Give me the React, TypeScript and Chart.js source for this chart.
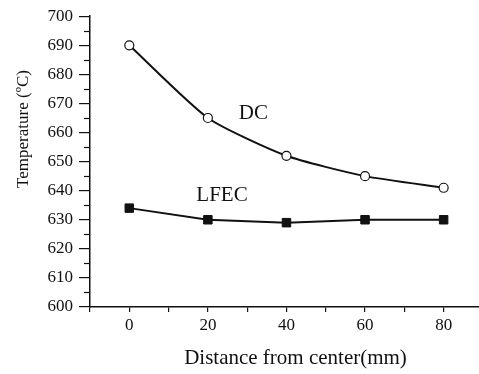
import React, { useEffect, useRef } from 'react';
import { Chart, registerables } from 'chart.js';

Chart.register(...registerables);

const distances = [0, 20, 40, 60, 80];
const dcTemps = [690, 665, 652, 645, 641];
const lfecTemps = [634, 630, 629, 630, 630];
const seriesNames = ['DC', 'LFEC'];
const xTitle = 'Distance from center(mm)';
const yTitle = 'Temperature (ºC)';
const xMin = -10;
const xMax = 89;
const yMin = 600;
const yMax = 700;

const INK = '#111';
const SERIF = '"Liberation Serif", "Times New Roman", serif';

const decorPlugin = {
  id: 'decor',
  afterDraw(chart: any) {
    const ctx = chart.ctx;
    const xs = chart.scales.x;
    const ys = chart.scales.y;
    const area = chart.chartArea;
    ctx.save();
    // minor y ticks
    ctx.strokeStyle = INK;
    ctx.lineWidth = 1.2;
    for (let v = yMin + 5; v < yMax; v += 10) {
      const py = Math.round(ys.getPixelForValue(v)) + 0.5;
      ctx.beginPath();
      ctx.moveTo(area.left - 6, py);
      ctx.lineTo(area.left, py);
      ctx.stroke();
    }
    // series labels
    ctx.fillStyle = INK;
    ctx.font = '21px ' + SERIF;
    ctx.textAlign = 'center';
    ctx.textBaseline = 'middle';
    ctx.fillText(seriesNames[0], xs.getPixelForValue(31.6), ys.getPixelForValue(666.4));
    ctx.fillText(seriesNames[1], xs.getPixelForValue(23.6), ys.getPixelForValue(638.4));
    // x title
    ctx.font = '21px ' + SERIF;
    ctx.fillText(xTitle, 295.5, 358);
    // y title
    ctx.save();
    ctx.translate(24, 129);
    ctx.rotate(-Math.PI / 2);
    ctx.font = '17px ' + SERIF;
    ctx.fillText(yTitle, 0, 0);
    ctx.restore();
    ctx.restore();
  },
};

export default function App() {
  const ref = useRef<HTMLCanvasElement>(null);
  useEffect(() => {
    document.body.style.margin = '0';
    const canvas = ref.current;
    if (!canvas) return;
    const chart = new Chart(canvas, {
      type: 'line',
      data: {
        datasets: [
          {
            label: seriesNames[0],
            data: distances.map((d, i) => ({ x: d, y: dcTemps[i] })),
            borderColor: INK,
            borderWidth: 2,
            pointStyle: 'circle',
            pointRadius: 4.5,
            pointBackgroundColor: '#fff',
            pointBorderColor: INK,
            pointBorderWidth: 1.2,
            tension: 0.2,
          },
          {
            label: seriesNames[1],
            data: distances.map((d, i) => ({ x: d, y: lfecTemps[i] })),
            borderColor: INK,
            borderWidth: 2,
            pointStyle: 'rect',
            pointRadius: 6,
            pointBackgroundColor: INK,
            pointBorderColor: INK,
            pointBorderWidth: 1,
            tension: 0,
          },
        ],
      },
      options: {
        animation: false,
        responsive: false,
        layout: { autoPadding: false, padding: { top: 15, right: 0, left: 0, bottom: 0 } },
        plugins: { legend: { display: false }, tooltip: { enabled: false } },
        scales: {
          x: {
            type: 'linear',
            min: xMin,
            max: xMax,
            afterFit: (s: any) => { s.height = 67; s.paddingRight = 0; s.paddingLeft = 0; },
            grid: { display: true, drawOnChartArea: false, drawTicks: true, tickLength: 5, color: INK, lineWidth: 1.2 },
            border: { display: true, color: INK, width: 1.5 },
            ticks: {
              stepSize: 10,
              includeBounds: false,
              autoSkip: false,
              maxRotation: 0,
              padding: 3,
              color: INK,
              font: { family: SERIF, size: 17 },
              callback: (v: any) => (Number(v) % 20 === 0 ? String(v) : ''),
            },
          },
          y: {
            type: 'linear',
            min: yMin,
            max: yMax,
            afterFit: (s: any) => { s.width = 90; },
            grid: { display: true, drawOnChartArea: false, drawTicks: true, tickLength: 11, color: INK, lineWidth: 1.2 },
            border: { display: true, color: INK, width: 1.5 },
            ticks: {
              stepSize: 10,
              padding: 6,
              color: INK,
              font: { family: SERIF, size: 17 },
            },
          },
        },
      },
      plugins: [decorPlugin],
    } as any);
    return () => chart.destroy();
  }, []);
  return (
    <div style={{ position: 'fixed', left: 0, top: 0, width: 479, height: 374, background: '#fff' }}>
      <canvas ref={ref} width={479} height={374} style={{ display: 'block' }} />
    </div>
  );
}
